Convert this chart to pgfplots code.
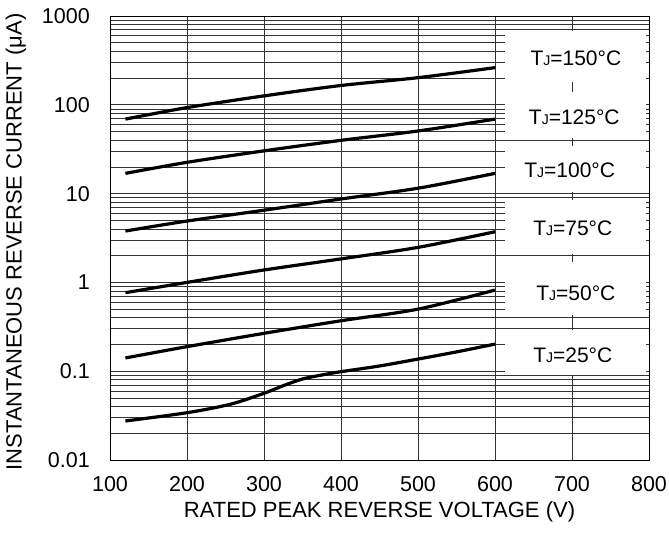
\documentclass[border=0pt]{standalone}
\usepackage{fontspec}
\setmainfont{Liberation Sans}
\usepackage{pgfplots}
\pgfplotsset{compat=1.18}
\newcommand\lowJ{{\fontsize{14}{14}\selectfont J}}
\begin{document}
\fontsize{21}{24}\selectfont
\begin{tikzpicture}
\begin{axis}[
 scale only axis, width=539pt, height=444pt,
 xmin=100, xmax=800, ymin=0.01, ymax=1000, ymode=log,
 xtick={100,200,...,800},
 ytick={0.01,0.1,1,10,100,1000},
 yticklabels={0.01,0.1,1,10,100,1000},
 /pgf/number format/assume math mode=true,
 major tick length=0pt, minor tick length=0pt,
 xmajorgrids, ymajorgrids, yminorgrids,
 grid style={black!80, line width=0.7pt},
 minor grid style={black!80, line width=0.7pt},
 axis line style={black, line width=0.8pt},
 tick label style={font=\fontsize{21.5}{24}\selectfont},
 label style={font=\fontsize{22}{26}\selectfont},
 yticklabel style={xshift=-13pt},
 xticklabel style={yshift=-9pt},
 xlabel={RATED PEAK REVERSE VOLTAGE (V)},
 ylabel={INSTANTANEOUS REVERSE CURRENT (μA)},
 xlabel style={at={(axis description cs:0.5,-0.1306)}, anchor=base},
 ylabel style={at={(axis description cs:-0.1744,0.491)}, anchor=center},
 clip=false,
]
\coordinate (ll) at (rel axis cs:0,0);
\coordinate (ur) at (rel axis cs:1,1);
% label boxes
\fill[white] (axis cs:613,677.6) rectangle (axis cs:796,180.7);
\fill[white] (axis cs:613,139.3) rectangle (axis cs:796,42.3);
\fill[white] (axis cs:613,34.4) rectangle (axis cs:796,10.4);
\fill[white] (axis cs:613,8.47) rectangle (axis cs:796,2.09);
\fill[white] (axis cs:613,1.70) rectangle (axis cs:796,0.430);
\fill[white] (axis cs:613,0.291) rectangle (axis cs:796,0.0906);
\node at (axis cs:705,336.5) {T\lowJ=150°C};
\node at (axis cs:703,72.8) {T\lowJ=125°C};
\node at (axis cs:697,18.45) {T\lowJ=100°C};
\node at (axis cs:701,4.10) {T\lowJ=75°C};
\node at (axis cs:705,0.759) {T\lowJ=50°C};
\node at (axis cs:701,0.152) {T\lowJ=25°C};
% curves
\addplot[black, line width=3.2pt, smooth] coordinates {(120,69) (200,93) (300,126) (400,165) (500,202) (600,262)};
\addplot[black, line width=3.2pt, smooth] coordinates {(120,16.9) (200,22.5) (300,30.3) (400,39.8) (500,50.7) (600,69)};
\addplot[black, line width=3.2pt, smooth] coordinates {(120,3.79) (200,4.91) (300,6.5) (400,8.7) (500,11.5) (600,16.9)};
\addplot[black, line width=3.2pt, smooth] coordinates {(120,0.766) (200,1.0) (300,1.38) (400,1.84) (500,2.48) (600,3.72)};
\addplot[black, line width=3.2pt, smooth] coordinates {(120,0.141) (200,0.189) (300,0.267) (400,0.37) (500,0.50) (600,0.82)};
\addplot[black, line width=3.2pt, smooth] coordinates {(120,0.0275) (200,0.0341) (256,0.0424) (300,0.0564) (325,0.0687) (350,0.0817) (375,0.0906) (400,0.0988) (450,0.1145) (500,0.137) (550,0.165) (600,0.202)};
\end{axis}
\pgfresetboundingbox
\path ([shift={(-110pt,-75pt)}]ll) rectangle ([shift={(20pt,16pt)}]ur);
\end{tikzpicture}
\end{document}
